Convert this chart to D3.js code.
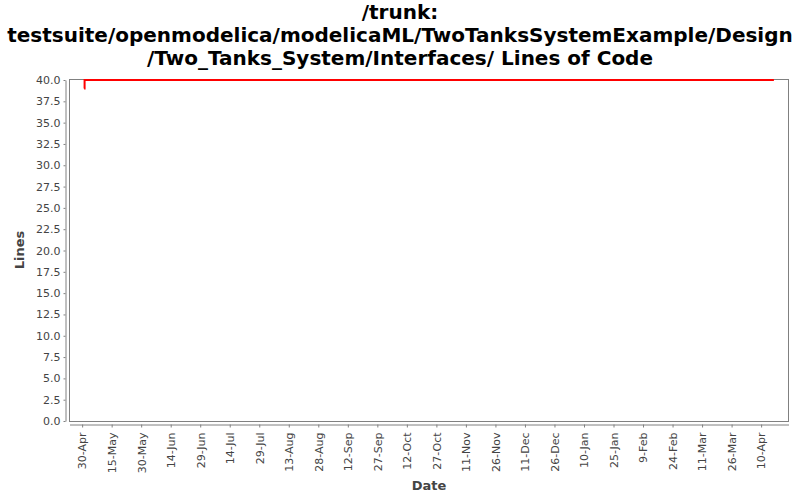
<!DOCTYPE html>
<html>
<head>
<meta charset="utf-8">
<script src="https://cdn.jsdelivr.net/npm/d3@7"></script>
<style>
body { margin: 0; background: #fff; }
</style>
</head>
<body>
<div class="canvas"></div>
<script>
// chart data
const titleLines = ['/trunk:', 'testsuite/openmodelica/modelicaML/TwoTanksSystemExample/Design', '/Two_Tanks_System/Interfaces/ Lines of Code'];
const dates = ['2010-05-01T00:00', '2010-05-01T06:00', '2011-04-16T12:00'];
const lines = [39, 40, 40];
const yTicks = [0, 2.5, 5, 7.5, 10, 12.5, 15, 17.5, 20, 22.5, 25, 27.5, 30, 32.5, 35, 37.5, 40];
const xTickLabels = ['30-Apr', '15-May', '30-May', '14-Jun', '29-Jun', '14-Jul', '29-Jul', '13-Aug', '28-Aug', '12-Sep', '27-Sep', '12-Oct', '27-Oct', '11-Nov', '26-Nov', '11-Dec', '26-Dec', '10-Jan', '25-Jan', '9-Feb', '24-Feb', '11-Mar', '26-Mar', '10-Apr'];

const width = 800, height = 500;
const plot = {left: 69.5, right: 788.5, top: 79.5, bottom: 421.5};

const parse = d3.timeParse('%Y-%m-%dT%H:%M');
const data = dates.map((d, i) => ({date: parse(d), value: lines[i]}));
const tickDates = d3.timeDay.range(new Date(2010, 3, 30), new Date(2011, 3, 11), 15);

const svg = d3.select('.canvas')
.append('svg')
.attr('width', width)
.attr('height', height)
.style('font-family', 'DejaVu Sans');

// title
svg.append('g')
.selectAll('text')
.data(titleLines)
.enter()
.append('text')
.attr('x', width / 2)
.attr('y', (d, i) => 19 + i * 23)
.attr('text-anchor', 'middle')
.attr('font-size', 20)
.attr('font-weight', 'bold')
.attr('fill', '#000')
.text(d => d);

// scales
const x = d3.scaleTime()
.domain([new Date(2010, 3, 23, 14), new Date(2011, 3, 23, 22)])
.range([plot.left, plot.right]);

const y = d3.scaleLinear()
.domain([0, 40])
.range([421, 80]);

// plot border
svg.append('rect')
.attr('x', plot.left)
.attr('y', plot.top)
.attr('width', plot.right - plot.left)
.attr('height', plot.bottom - plot.top)
.attr('fill', '#fff')
.attr('stroke', '#808080')
.attr('stroke-width', 1);

// axes
const yAxis = d3.axisLeft(y)
.tickValues(yTicks)
.tickFormat(d3.format('.1f'))
.tickSizeInner(2)
.tickSizeOuter(0)
.tickPadding(3);

const xAxis = d3.axisBottom(x)
.tickValues(tickDates)
.tickFormat((d, i) => xTickLabels[i])
.tickSizeInner(3)
.tickSizeOuter(0)
.tickPadding(3);

const yAxisGroup = svg.append('g')
.attr('transform', 'translate(65.5,0)')
.call(yAxis);

const xAxisGroup = svg.append('g')
.attr('transform', 'translate(0,424.5)')
.call(xAxis);

[yAxisGroup, xAxisGroup].forEach(g => {
    g.select('.domain').attr('stroke', '#808080');
    g.selectAll('.tick line').attr('stroke', '#808080');
    g.selectAll('text')
    .attr('fill', '#444')
    .attr('font-size', 11)
    .attr('font-family', 'DejaVu Sans');
});

// rotate x tick text
xAxisGroup.selectAll('text')
.attr('transform', 'rotate(-90)')
.attr('text-anchor', 'end')
.attr('dy', '0.35em')
.attr('x', -8)
.attr('y', 0);

// axis labels
svg.append('text')
.attr('transform', 'translate(24,250) rotate(-90)')
.attr('text-anchor', 'middle')
.attr('font-size', 13)
.attr('font-weight', 'bold')
.attr('fill', '#444')
.text('Lines');

svg.append('text')
.attr('x', 429)
.attr('y', 490)
.attr('text-anchor', 'middle')
.attr('font-size', 13)
.attr('font-weight', 'bold')
.attr('fill', '#444')
.text('Date');

// line
const line = d3.line()
.x(d => x(d.date))
.y(d => y(d.value))
.curve(d3.curveStepAfter);

svg.append('path')
.datum(data)
.attr('fill', 'none')
.attr('stroke', '#ff0000')
.attr('stroke-width', 2)
.attr('d', line);
</script>
</body>
</html>
